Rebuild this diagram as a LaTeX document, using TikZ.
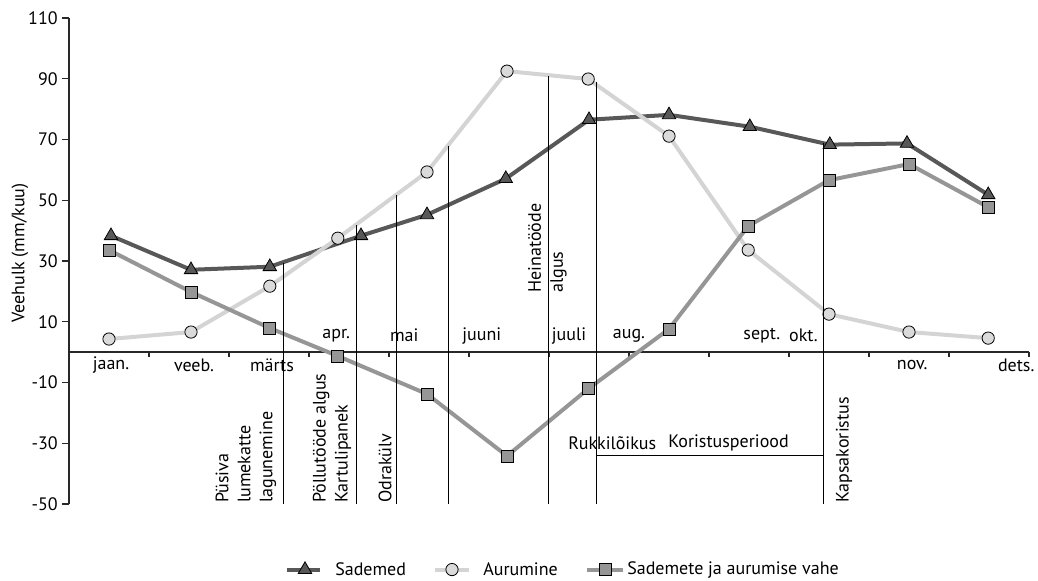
\documentclass[tikz,border=0pt]{standalone}
\usepackage{fontspec}
\setmainfont{PT Sans}
\usetikzlibrary{plotmarks}
\definecolor{sadcol}{RGB}{88,88,88}
\definecolor{aurcol}{RGB}{212,212,212}
\definecolor{aurfill}{RGB}{218,218,218}
\definecolor{vahcol}{RGB}{150,150,150}
\definecolor{axcol}{RGB}{40,40,40}

\begin{document}
\begin{tikzpicture}[x=60pt,y=2.278pt,font=\fontsize{13.5}{16.5}\selectfont]
\tikzstyle{every node}+=[inner sep=0pt]
\tikzstyle{sad}=[line width=3pt,sadcol,mark=triangle*,mark size=5.8pt,mark options={fill=sadcol,draw=black,line width=0.6pt}]
\tikzstyle{aur}=[line width=3pt,aurcol,mark=*,mark size=4.6pt,mark options={fill=aurfill,draw=black,line width=0.6pt}]
\tikzstyle{vah}=[line width=3pt,vahcol,mark=square*,mark size=4.5pt,mark options={fill=vahcol,draw=black,line width=0.6pt}]
\tikzstyle{mark line}=[black,line width=0.75pt]
\tikzstyle{event}=[rotate=90,anchor=west,align=left]
\useasboundingbox (-0.8625,-75.36) rectangle (12.1125,115.92);
% axes
\draw [axcol,line width=1pt] (0,110) -- (0,-50);
\draw [axcol,line width=1pt] (0,0) -- (12,0);
\foreach \y in {110,90,...,-50}
  \draw [axcol,line width=1pt] (0,\y) -- ++(-5pt,0) node [left=3pt,black] {\y};
\foreach \x in {1,...,12}
  \draw [axcol,line width=1pt] (\x,0) -- ++(0,-4pt);
\node [rotate=90] (ylab) at (-0.6125,32.6) {Veehulk (mm/kuu)};
% months
\node (jaan) at (0.525,-4.3) {jaan.};
\node (veeb) at (1.5625,-4.3) {veeb.};
\node (marts) at (2.5375,-4.3) {märts};
\node (apr) at (3.34,5.4) {apr.};
\node (mai) at (4.19,5.4) {mai};
\node (juuni) at (5.16,5.4) {juuni};
\node (juuli) at (6.25,5.4) {juuli};
\node (aug) at (7.0,5.4) {aug.};
\node (sept) at (8.66,5.4) {sept.};
\node (okt) at (9.18,5.4) {okt.};
\node (nov) at (10.54,-4.3) {nov.};
\node (dets) at (11.84,-4.3) {dets.};
% series
\draw [sad] plot coordinates {(0.525,38.3) (1.525,27.1) (2.51,28.1) (3.65,38.3) (4.475,45.2) (5.46,57.1) (6.5,76.5) (7.5,78.1) (8.51,74.2) (9.51,68.3) (10.475,68.7) (11.49,51.8)};
\draw [aur] plot coordinates {(0.5,4.3) (1.525,6.6) (2.51,21.7) (3.36,37.5) (4.475,59.3) (5.475,92.5) (6.49,89.9) (7.5,71.1) (8.49,33.6) (9.5,12.5) (10.5,6.6) (11.49,4.6)};
\draw [vah] plot coordinates {(0.5,33.6) (1.525,19.8) (2.51,7.9) (3.36,-1.3) (4.475,-13.8) (5.475,-34.2) (6.49,-12.1) (7.5,7.6) (8.49,41.5) (9.5,56.6) (10.5,61.9) (11.49,47.7)};
% field work
\draw [mark line] (2.675,29.3) -- (2.675,-50);
\draw [mark line] (3.5875,41.8) -- (3.5875,-50);
\draw [mark line] (4.0875,51.7) -- (4.0875,-50);
\draw [mark line] (4.7375,67.9) -- (4.7375,-50);
\draw [mark line] (5.9875,90.9) -- (5.9875,-50);
\draw [mark line] (6.5875,88.9) -- (6.5875,-50);
\draw [mark line] (9.425,68.8) -- (9.425,-50);
\draw [mark line] (6.5875,-34.2) -- (9.425,-34.2);
\node [event] (lume) at (2.2125,-49.7) {Püsiva\\lumekatte\\lagunemine};
\node [event] (pold) at (3.2875,-49.7) {Pöllutööde algus\\Kartulipanek};
\node [event] (odra) at (3.95,-49.7) {Odrakülv};
\node [event] (hein) at (5.98,19.5) {Heinatööde\\algus};
\node [event] (kaps) at (9.6875,-49.7) {Kapsakoristus};
\node [anchor=west] (rukk) at (6.2375,-29.9) {Rukkilõikus};
\node [anchor=west] (kor) at (7.4875,-29.9) {Koristusperiood};
% legend
\draw [sad,mark indices={2}] plot coordinates {(2.725,-71.6) (2.95,-71.6) (3.1375,-71.6)};
\node [anchor=west] (lsad) at (3.325,-71.6) {Sademed};
\draw [aur,mark indices={2}] plot coordinates {(4.575,-71.6) (4.7875,-71.6) (5.0,-71.6)};
\node [anchor=west] (laur) at (5.175,-71.6) {Aurumine};
\draw [vah,mark indices={2}] plot coordinates {(6.475,-71.6) (6.7,-71.6) (6.925,-71.6)};
\node [anchor=west] (lvah) at (6.975,-71.6) {Sademete ja aurumise vahe};
\end{tikzpicture}
\end{document}
